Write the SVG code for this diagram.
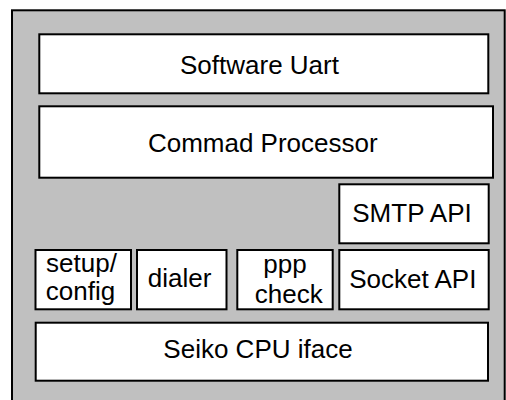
<svg xmlns="http://www.w3.org/2000/svg" width="506" height="400" viewBox="0 0 506 400">
<style>
.outer{fill:#c0c0c0;stroke:#000;stroke-width:2}
.box{fill:#fff;stroke:#000;stroke-width:2}
text{font-family:"Liberation Sans",Arial,sans-serif;font-size:26px;fill:#000;text-anchor:middle}
</style>
<rect class="outer" x="12" y="10.3" width="492.7" height="400"/>
<g id="software-uart"><rect class="box" x="39.3" y="34.3" width="449" height="59"/><text x="259.5" y="74">Software Uart</text></g>
<g id="command-processor"><rect class="box" x="39.3" y="106.3" width="453.7" height="71.4"/><text x="262.8" y="152.3">Commad Processor</text></g>
<g id="smtp-api"><rect class="box" x="339.3" y="184.3" width="149.4" height="59"/><text x="412" y="221.7">SMTP API</text></g>
<g id="setup-config"><rect class="box" x="35.5" y="250" width="95.5" height="59.3"/><text x="81.5" y="271.7">setup/</text><text x="80.5" y="300">config</text></g>
<g id="dialer"><rect class="box" x="137" y="250" width="89.5" height="59.3"/><text x="179.5" y="287.3">dialer</text></g>
<g id="ppp-check"><rect class="box" x="237.3" y="250" width="95.4" height="59.3"/><text x="285" y="272.7">ppp</text><text x="288.8" y="302.7">check</text></g>
<g id="socket-api"><rect class="box" x="339.3" y="250" width="149.4" height="59.3"/><text x="412.8" y="288.3">Socket API</text></g>
<g id="seiko-cpu-iface"><rect class="box" x="35.7" y="322.7" width="452.3" height="58"/><text x="258" y="358.3">Seiko CPU iface</text></g>
<g id="connectors"/>
</svg>
